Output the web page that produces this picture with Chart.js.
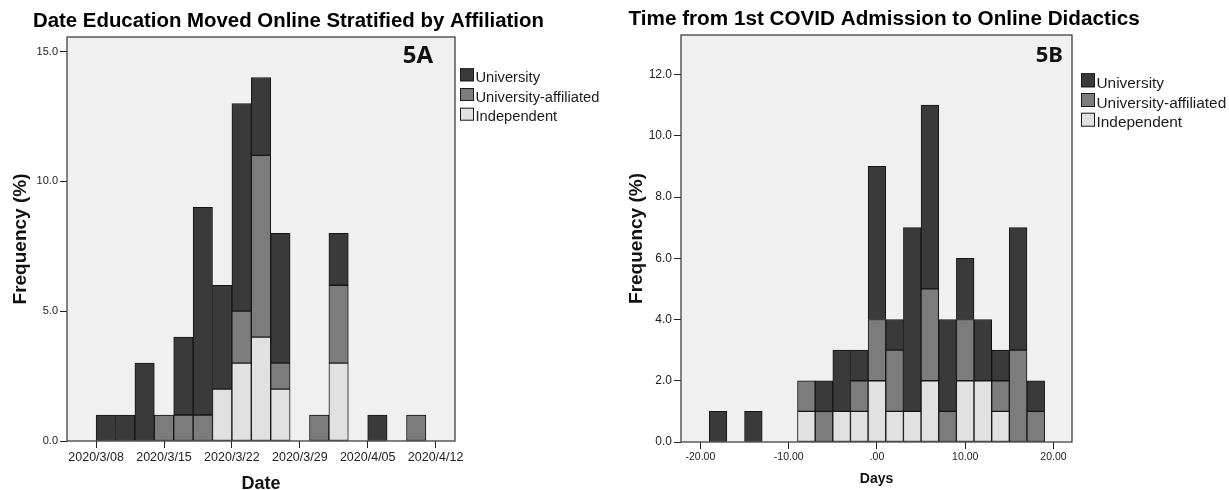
<!DOCTYPE html>
<html>
<head>
<meta charset="utf-8">
<script src="https://cdn.jsdelivr.net/npm/chart.js@4.4.1/dist/chart.umd.min.js"></script>
<style>
    body { margin: 0; background: #fff; }
    .panel { position: absolute; top: 0; height: 490px; }
    #panelA { left: 0; width: 614px; }
    #panelB { left: 614px; width: 615px; }
</style>
</head>
<body>
<div class="panel" id="panelA"><canvas id="chartA"></canvas></div>
<div class="panel" id="panelB"><canvas id="chartB"></canvas></div>
<script>
// 5A - two-day bins, day 0 = 2020/3/08
const binCentersA = [1, 3, 5, 7, 9, 11, 13, 15, 17, 19, 21, 23, 25, 27, 29, 31, 33];
const universityA = [1, 1, 3, 0, 3, 8, 4, 8, 3, 5, 0, 0, 2, 0, 1, 0, 0];
const affiliatedA = [0, 0, 0, 1, 1, 1, 0, 2, 7, 1, 0, 1, 3, 0, 0, 0, 1];
const independentA = [0, 0, 0, 0, 0, 0, 2, 3, 4, 2, 0, 0, 3, 0, 0, 0, 0];
const xTicksA = [0, 7, 14, 21, 28, 35];
const xTickLabelsA = ['2020/3/08', '2020/3/15', '2020/3/22', '2020/3/29', '2020/4/05', '2020/4/12'];
const yTicksA = [0, 5, 10, 15];

// 5B - days from 1st COVID admission, two-day bins
const binCentersB = [-18, -16, -14, -12, -10, -8, -6, -4, -2, 0, 2, 4, 6, 8, 10, 12, 14, 16, 18];
const universityB = [1, 0, 1, 0, 0, 0, 1, 2, 1, 5, 1, 6, 6, 3, 2, 2, 1, 4, 1];
const affiliatedB = [0, 0, 0, 0, 0, 1, 1, 0, 1, 2, 2, 0, 3, 1, 2, 0, 1, 3, 1];
const independentB = [0, 0, 0, 0, 0, 1, 0, 1, 1, 2, 1, 1, 2, 0, 2, 2, 1, 0, 0];
const xTicksB = [-20, -10, 0, 10, 20];
const xTickLabelsB = ['-20.00', '-10.00', '.00', '10.00', '20.00'];
const yTicksB = [0, 2, 4, 6, 8, 10, 12];

const seriesNames = ['Independent', 'University-affiliated', 'University'];
const seriesColors = ['#e1e1e1', '#7c7c7c', '#3a3a3a'];

const SANS = "'Liberation Sans', Arial, sans-serif";
Chart.defaults.font.family = SANS;
Chart.defaults.color = '#222';

// plot background, frame, title, panel tag and legend
const panelDecor = {
    id: 'panelDecor',
    beforeDatasetsDraw(chart, args, o) {
        const { ctx, chartArea: a } = chart;
        ctx.save();
        ctx.fillStyle = '#f0f0f0';
        ctx.fillRect(a.left, a.top, a.width, a.height);
        ctx.restore();
    },
    afterDatasetsDraw(chart, args, o) {
        const { ctx, chartArea: a } = chart;
        ctx.save();
        ctx.strokeStyle = '#333';
        ctx.lineWidth = 1.2;
        ctx.strokeRect(a.left, a.top, a.width, a.height);

        ctx.fillStyle = '#000';
        ctx.textBaseline = 'alphabetic';
        ctx.textAlign = 'left';
        ctx.font = o.titleFont;
        ctx.fillText(o.title, o.titleX, o.titleY);

        ctx.font = o.tagFont;
        ctx.textAlign = 'right';
        ctx.fillStyle = '#111';
        ctx.fillText(o.tag, a.right - o.tagRight, a.top + o.tagBase);

        const items = chart.data.datasets.slice().reverse();
        ctx.font = o.legendFont;
        ctx.textAlign = 'left';
        items.forEach((ds, i) => {
            const x = a.right + o.legendGap;
            const y = a.top + o.legendTop + i * o.legendRow;
            ctx.fillStyle = ds.backgroundColor;
            ctx.fillRect(x, y, o.boxW, o.boxH);
            ctx.strokeStyle = '#1a1a1a';
            ctx.lineWidth = 1;
            ctx.strokeRect(x + 0.5, y + 0.5, o.boxW - 1, o.boxH - 1);
            ctx.fillStyle = '#1c1c1c';
            ctx.fillText(ds.label, x + o.boxW + 1.5, y + o.boxH + 0.5);
        });
        ctx.restore();
    }
};

function histogram(canvasId, s) {
    const layers = [s.independent, s.affiliated, s.university];
    const datasets = layers.map((vals, k) => ({
        label: seriesNames[k],
        data: s.centers.map((x, i) => ({ x: x, y: vals[i] || null })),
        backgroundColor: seriesColors[k],
        borderColor: '#151515',
        borderWidth: 1,
        borderSkipped: false,
        barPercentage: 1,
        categoryPercentage: 1
    }));

    return new Chart(document.getElementById(canvasId), {
        type: 'bar',
        data: { datasets: datasets },
        plugins: [panelDecor],
        options: {
            responsive: true,
            maintainAspectRatio: false,
            animation: false,
            events: [],
            layout: { padding: s.padding },
            plugins: {
                legend: { display: false },
                tooltip: { enabled: false },
                title: { display: false },
                panelDecor: s.decor
            },
            scales: {
                x: {
                    type: 'linear',
                    stacked: true,
                    offset: false,
                    min: s.xRange[0],
                    max: s.xRange[1],
                    afterBuildTicks: sc => { sc.ticks = s.xTicks.map(v => ({ value: v })); },
                    afterFit: sc => { sc.height = s.xHeight; },
                    grid: { display: true, drawOnChartArea: false, offset: false, tickLength: 7, tickColor: '#222' },
                    border: { display: false },
                    ticks: {
                        autoSkip: false, maxRotation: 0, padding: 2, color: '#222',
                        font: { size: s.xTickSize },
                        callback: (v, i) => s.xTickLabels[i]
                    },
                    title: {
                        display: true, text: s.xTitle, color: '#111',
                        font: { size: s.xTitleSize, weight: 'bold', lineHeight: s.xTitleLH },
                        padding: { top: 0, bottom: s.xTitlePad }
                    }
                },
                y: {
                    stacked: true,
                    min: 0,
                    max: s.yMax,
                    afterBuildTicks: sc => { sc.ticks = s.yTicks.map(v => ({ value: v })); },
                    afterFit: sc => { sc.width = s.yWidth; },
                    grid: { display: true, drawOnChartArea: false, tickLength: 7, tickColor: '#222' },
                    border: { display: false },
                    ticks: {
                        padding: 2, color: '#222',
                        font: { size: s.yTickSize },
                        callback: v => v.toFixed(1)
                    },
                    title: {
                        display: true, text: 'Frequency (%)', color: '#111',
                        font: { size: 19, weight: 'bold' },
                        padding: { top: s.yTitlePad, bottom: 0 }
                    }
                }
            }
        }
    });
}

histogram('chartA', {
    centers: binCentersA,
    university: universityA,
    affiliated: affiliatedA,
    independent: independentA,
    xRange: [-3, 37],
    xTicks: xTicksA,
    xTickLabels: xTickLabelsA,
    yTicks: yTicksA,
    yMax: 15.56,
    padding: { top: 37, right: 159, bottom: 0, left: 0 },
    xHeight: 49,
    yWidth: 67,
    xTickSize: 12.5,
    yTickSize: 11,
    xTitle: 'Date',
    xTitleSize: 18,
    xTitleLH: 0.7,
    xTitlePad: 0,
    yTitlePad: 9,
    decor: {
        title: 'Date Education Moved Online Stratified by Affiliation',
        titleFont: 'bold 20.4px ' + SANS,
        titleX: 33, titleY: 26.7,
        tag: '5A', tagFont: "bold 24px 'Noto Sans', sans-serif", tagRight: 22, tagBase: 26.3,
        legendFont: '14.7px ' + SANS,
        legendGap: 5, legendTop: 31.3, legendRow: 19.7, boxW: 14, boxH: 13
    }
});

histogram('chartB', {
    centers: binCentersB,
    university: universityB,
    affiliated: affiliatedB,
    independent: independentB,
    xRange: [-22.2, 22.1],
    xTicks: xTicksB,
    xTickLabels: xTickLabelsB,
    yTicks: yTicksB,
    yMax: 13.29,
    padding: { top: 35, right: 157, bottom: 0, left: 0 },
    xHeight: 48,
    yWidth: 67,
    xTickSize: 10.5,
    yTickSize: 12,
    xTitle: 'Days',
    xTitleSize: 14,
    xTitleLH: 1.2,
    xTitlePad: 2.5,
    yTitlePad: 11.6,
    decor: {
        title: 'Time from 1st COVID Admission to Online Didactics',
        titleFont: 'bold 20.7px ' + SANS,
        titleX: 14.5, titleY: 25.3,
        tag: '5B', tagFont: "bold 22px 'Noto Sans', sans-serif", tagRight: 9, tagBase: 26.7,
        legendFont: '15.4px ' + SANS,
        legendGap: 9, legendTop: 38.3, legendRow: 19.7, boxW: 14, boxH: 14
    }
});
</script>
</body>
</html>
